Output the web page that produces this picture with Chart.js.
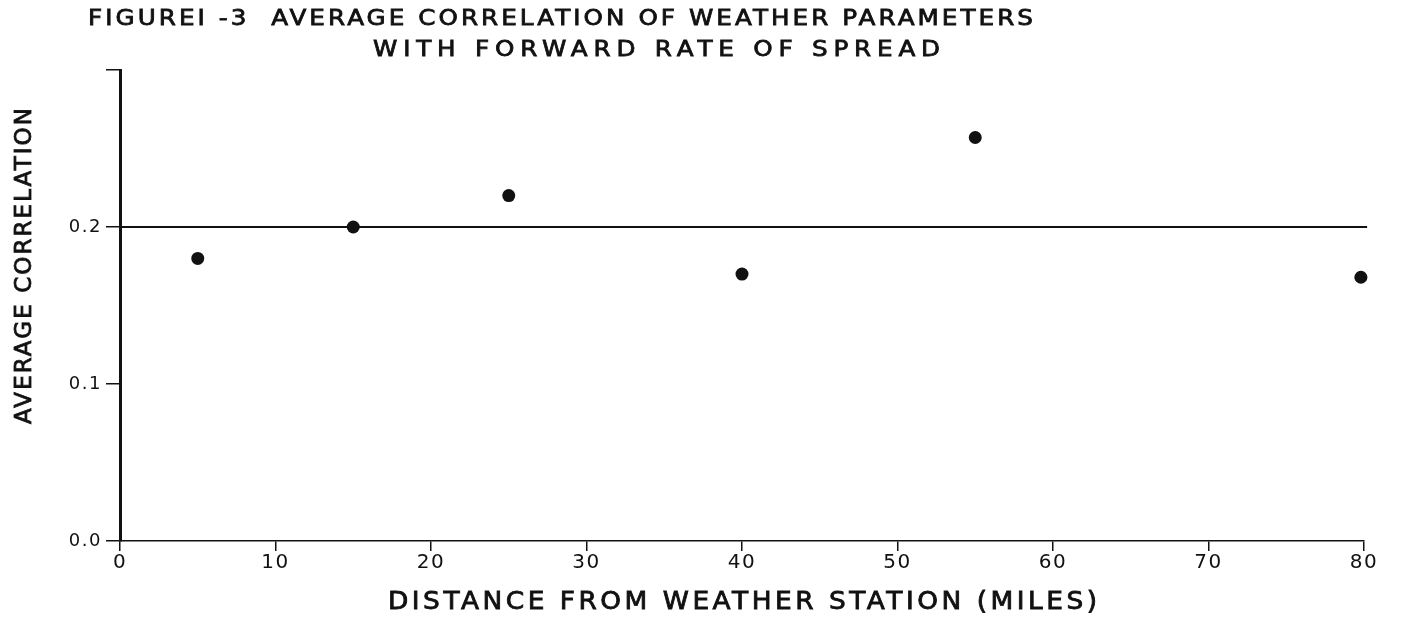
<!DOCTYPE html>
<html><head><meta charset="utf-8">
<script src="https://cdn.jsdelivr.net/npm/chart.js@4"></script>
<style>html,body{margin:0;background:#fff}#wrap{width:1401px;height:622px}</style>
</head><body><div id="wrap"><canvas id="c" width="1401" height="622"></canvas></div>
<script>
const distances = [5, 15, 25, 40, 55, 79.8];
const correlations = [0.18, 0.2, 0.22, 0.17, 0.257, 0.168];
const refLineX = [0, 80.2];
const refLineY = [0.2, 0.2];
const xTicks = [0, 10, 20, 30, 40, 50, 60, 70, 80];
const yTicks = [0, 0.1, 0.2, 0.3];
const yTickLabels = ['0.0', '0.1', '0.2', ''];
const titleLines = ['FIGURE\u2160 -3  AVERAGE CORRELATION OF WEATHER PARAMETERS', 'WITH FORWARD RATE OF SPREAD'];
const xTitle = 'DISTANCE FROM WEATHER STATION (MILES)';
const yTitle = 'AVERAGE CORRELATION';

const INK = '#111';
const FONT = '"DejaVu Sans", "Liberation Sans", sans-serif';

// draw text stretched horizontally so that it spans x0..x1
function fitText(ctx, text, x0, x1, y, font, sx) {
  ctx.save();
  ctx.font = font;
  ctx.letterSpacing = '0px';
  const w = ctx.measureText(text).width;
  const n = [...text].length;
  const target = (x1 - x0) / sx;
  const ls = (target - w) / (n - 1);
  ctx.translate(x0, y);
  ctx.scale(sx, 1);
  ctx.letterSpacing = ls + 'px';
  ctx.textAlign = 'left';
  ctx.textBaseline = 'middle';
  ctx.fillStyle = INK;
  ctx.strokeStyle = INK;
  ctx.lineWidth = 0.8;
  ctx.fillText(text, 0, 0);
  ctx.strokeText(text, 0, 0);
  ctx.restore();
}

const textPlugin = {
  id: 'textPlugin',
  beforeDraw(chart) { chart.ctx.letterSpacing = '1.5px'; },
  afterDraw(chart) {
    const ctx = chart.ctx;
    ctx.save();
    ctx.letterSpacing = '0px';
    fitText(ctx, titleLines[0], 88, 1033, 19, '22px ' + FONT, 1.12);
    fitText(ctx, titleLines[1], 373, 940, 50, '22px ' + FONT, 1.12);
    fitText(ctx, xTitle, 388, 1097, 603, '24px ' + FONT, 1.1);
    ctx.translate(25, 424);
    ctx.rotate(-Math.PI / 2);
    fitText(ctx, yTitle, 0, 316, 0, '23px ' + FONT, 1.0);
    ctx.restore();
  }
};

new Chart(document.getElementById('c'), {
  type: 'scatter',
  data: {
    datasets: [
      {
        type: 'line',
        data: refLineX.map((x, i) => ({ x, y: refLineY[i] })),
        borderColor: INK, borderWidth: 2, pointRadius: 0, fill: false, clip: false, order: 2
      },
      {
        data: distances.map((x, i) => ({ x, y: correlations[i] })),
        backgroundColor: INK, borderColor: INK, pointRadius: 6.5, borderWidth: 0, clip: false, order: 1
      }
    ]
  },
  options: {
    responsive: false, animation: false, devicePixelRatio: 1,
    layout: { padding: { left: 0, top: 70, right: 37, bottom: 0 } },
    plugins: { legend: { display: false }, tooltip: { enabled: false }, title: { display: false } },
    scales: {
      x: {
        type: 'linear', min: 0, max: 80,
        afterBuildTicks: s => { s.ticks = xTicks.map(v => ({ value: v })); },
        afterFit: s => { s.height = 81; },
        grid: { drawOnChartArea: false, drawTicks: true, tickLength: 10, color: INK, lineWidth: 1.5 },
        border: { display: true, color: INK, width: 1.5 },
        ticks: { color: INK, font: { family: FONT, size: 20 }, padding: 0, maxRotation: 0, autoSkip: false,
                 callback: v => String(v) }
      },
      y: {
        type: 'linear', min: 0, max: 0.3,
        afterBuildTicks: s => { s.ticks = yTicks.map(v => ({ value: v })); },
        afterFit: s => { s.width = 120; },
        grid: { drawOnChartArea: false, drawTicks: true, tickLength: 14, color: INK, lineWidth: 1.5 },
        border: { display: true, color: INK, width: 3 },
        ticks: { color: INK, font: { family: FONT, size: 18 }, padding: 4, autoSkip: false,
                 callback: (v, i) => yTickLabels[i] }
      }
    }
  },
  plugins: [textPlugin]
});
</script>
</body></html>
